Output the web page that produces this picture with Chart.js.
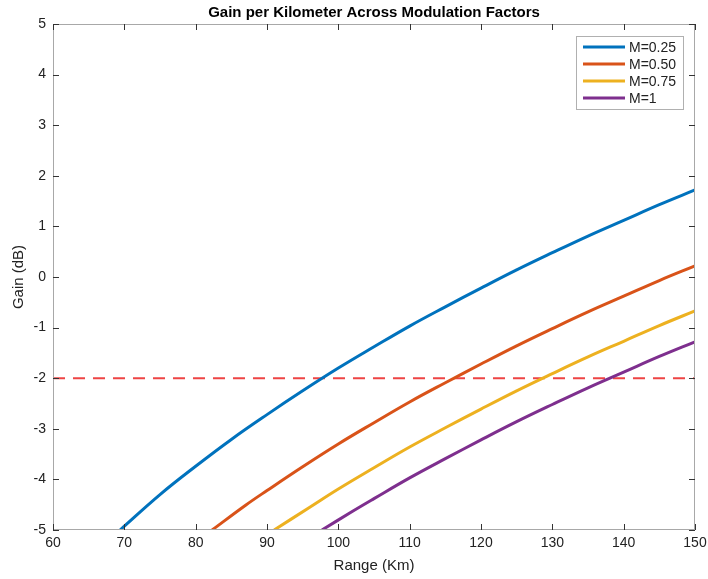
<!DOCTYPE html>
<html>
<head>
<meta charset="utf-8">
<title>Gain per Kilometer</title>
<script src="https://cdn.jsdelivr.net/npm/chart.js@4.4.1/dist/chart.umd.min.js"></script>
<style>
  html, body { margin: 0; padding: 0; background: #fff; }
  #wrap { width: 708px; height: 579px; position: relative; }
</style>
</head>
<body>
<div id="wrap"><canvas id="chart"></canvas></div>
<script>
// range (km) and gain (dB) for each modulation factor
const seriesLabels = ["M=0.25", "M=0.50", "M=0.75", "M=1"];
const seriesColors = ["#0072BD", "#D95319", "#EDB120", "#7E2F8E"];

const range025 = [69.4, 75, 80, 85, 90, 95, 100, 105, 110, 115, 120, 125, 130, 135, 140, 145, 150];
const gain025  = [-5.0, -4.30, -3.74, -3.21, -2.72, -2.25, -1.80, -1.38, -0.97, -0.59, -0.22, 0.14, 0.48, 0.81, 1.12, 1.43, 1.72];

const range050 = [82.3, 87, 90, 95, 100, 105, 110, 115, 120, 125, 130, 135, 140, 145, 150];
const gain050  = [-5.0, -4.51, -4.22, -3.75, -3.30, -2.88, -2.47, -2.09, -1.72, -1.36, -1.02, -0.69, -0.38, -0.07, 0.22];

const range075 = [91, 96, 100, 105, 110, 115, 120, 125, 130, 135, 140, 145, 150];
const gain075  = [-5.0, -4.55, -4.19, -3.77, -3.36, -2.98, -2.61, -2.25, -1.91, -1.58, -1.27, -0.96, -0.67];

const range100 = [97.7, 102, 105, 110, 115, 120, 125, 130, 135, 140, 145, 150];
const gain100  = [-5.0, -4.63, -4.38, -3.97, -3.59, -3.22, -2.86, -2.52, -2.19, -1.88, -1.57, -1.28];

// -2 dB threshold
const thresholdRange = [60, 150];
const thresholdGain = [-2, -2];

const xTicks = [60, 70, 80, 90, 100, 110, 120, 130, 140, 150];
const yTicks = [-5, -4, -3, -2, -1, 0, 1, 2, 3, 4, 5];

function toPoints(xs, ys) {
    return xs.map((x, i) => ({ x: x, y: ys[i] }));
}

const curves = [
    toPoints(range025, gain025),
    toPoints(range050, gain050),
    toPoints(range075, gain075),
    toPoints(range100, gain100)
];

const datasets = curves.map((pts, i) => ({
    label: seriesLabels[i],
    data: pts,
    borderColor: seriesColors[i],
    borderWidth: 3,
    pointRadius: 0,
    tension: 0.4,
    fill: false
}));

datasets.push({
    label: "threshold",
    data: toPoints(thresholdRange, thresholdGain),
    borderColor: "#EE4444",
    borderWidth: 2,
    borderDash: [12, 8],
    pointRadius: 0,
    fill: false
});

const FONT = "'Liberation Sans', Helvetica, Arial, sans-serif";

// box around the axes with ticks pointing inward on all four sides
const axesBox = {
    id: "axesBox",
    afterDraw(chart) {
        const ctx = chart.ctx;
        const a = chart.chartArea;
        const xs = chart.scales.x, ys = chart.scales.y;
        const len = 6;
        ctx.save();
        ctx.strokeStyle = "#a8a8a8";
        ctx.lineWidth = 1;
        ctx.strokeRect(a.left + 0.5, a.top + 0.5, a.right - a.left - 1, a.bottom - a.top - 1);
        ctx.strokeStyle = "#333";
        ctx.beginPath();
        xTicks.forEach(v => {
            const px = Math.round(xs.getPixelForValue(v)) + 0.5;
            ctx.moveTo(px, a.bottom); ctx.lineTo(px, a.bottom - len);
            ctx.moveTo(px, a.top); ctx.lineTo(px, a.top + len);
        });
        yTicks.forEach(v => {
            const py = Math.round(ys.getPixelForValue(v)) + 0.5;
            ctx.moveTo(a.left, py); ctx.lineTo(a.left + len, py);
            ctx.moveTo(a.right, py); ctx.lineTo(a.right - len, py);
        });
        ctx.stroke();
        ctx.restore();
    }
};

// legend box in the upper right corner
const boxLegend = {
    id: "boxLegend",
    afterDraw(chart) {
        const ctx = chart.ctx;
        const a = chart.chartArea;
        const rows = chart.data.datasets.slice(0, 4);
        const w = 107, rowH = 17;
        const x0 = a.right - 12 - w, y0 = a.top + 12;
        const h = rows.length * rowH + 5;
        ctx.save();
        ctx.fillStyle = "#fff";
        ctx.fillRect(x0, y0, w, h);
        ctx.strokeStyle = "#b0b0b0";
        ctx.lineWidth = 1;
        ctx.strokeRect(x0 + 0.5, y0 + 0.5, w, h);
        ctx.font = "14px " + FONT;
        ctx.textBaseline = "middle";
        rows.forEach((ds, i) => {
            const cy = y0 + 11 + i * rowH;
            ctx.strokeStyle = ds.borderColor;
            ctx.lineWidth = 3;
            ctx.beginPath();
            ctx.moveTo(x0 + 7, cy);
            ctx.lineTo(x0 + 49, cy);
            ctx.stroke();
            ctx.fillStyle = "#222";
            ctx.fillText(ds.label, x0 + 53, cy + 1);
        });
        ctx.restore();
    }
};

new Chart(document.getElementById("chart"), {
    type: "line",
    data: { datasets: datasets },
    options: {
        responsive: true,
        maintainAspectRatio: false,
        animation: false,
        layout: { padding: { right: 13, top: 0, left: 0, bottom: 0 } },
        plugins: {
            legend: { display: false },
            tooltip: { enabled: false },
            title: {
                display: true,
                fullSize: false,
                text: "Gain per Kilometer Across Modulation Factors",
                color: "#000",
                font: { family: FONT, size: 15, weight: "bold" },
                padding: { top: 4, bottom: 2 }
            }
        },
        scales: {
            x: {
                type: "linear",
                min: 60,
                max: 150,
                afterBuildTicks: s => { s.ticks = xTicks.map(v => ({ value: v })); },
                afterFit: s => { s.height = 49; s.paddingLeft = 0; s.paddingRight = 0; },
                grid: { display: false, drawTicks: false },
                border: { display: false },
                ticks: { color: "#222", padding: 5, font: { family: FONT, size: 14 } },
                title: {
                    display: true,
                    text: "Range (Km)",
                    color: "#222",
                    font: { family: FONT, size: 15 },
                    padding: { top: 0, bottom: 4 }
                }
            },
            y: {
                type: "linear",
                min: -5,
                max: 5,
                afterBuildTicks: s => { s.ticks = yTicks.map(v => ({ value: v })); },
                afterFit: s => { s.width = 53; s.paddingTop = 0; s.paddingBottom = 0; },
                grid: { display: false, drawTicks: false },
                border: { display: false },
                ticks: { color: "#222", padding: 7, font: { family: FONT, size: 14 } },
                title: {
                    display: true,
                    text: "Gain (dB)",
                    color: "#222",
                    font: { family: FONT, size: 15 },
                    padding: { top: 10, bottom: 0 }
                }
            }
        }
    },
    plugins: [axesBox, boxLegend]
});
</script>
</body>
</html>
